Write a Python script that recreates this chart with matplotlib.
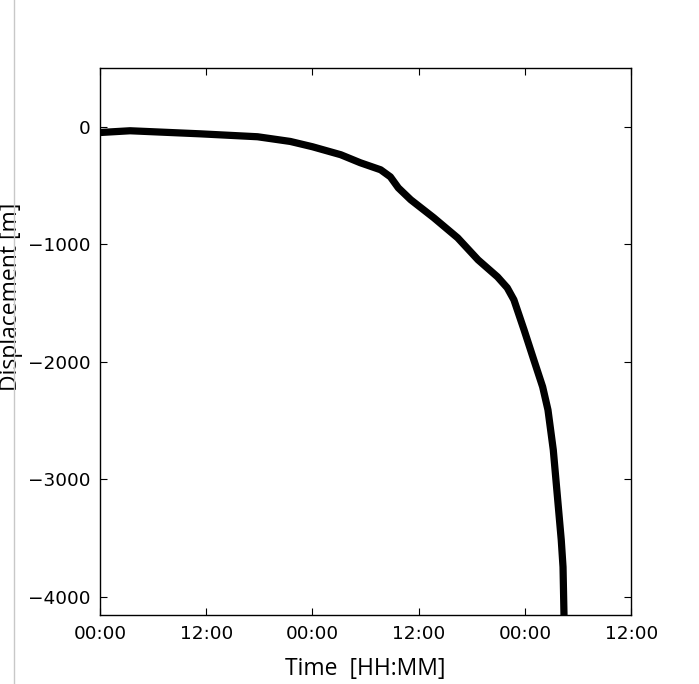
import matplotlib
matplotlib.use("Agg")
import matplotlib.pyplot as plt
from matplotlib.ticker import FuncFormatter, MultipleLocator
from matplotlib.lines import Line2D

# elapsed time in hours and displacement in metres
hours = [0.0, 3.4, 11.3, 17.8, 21.5, 24.0, 27.2, 29.4, 31.7, 32.8, 33.7, 35.1, 37.7,
         40.4, 42.7, 44.9, 46.0, 46.75, 47.9, 49.0, 50.0, 50.6, 51.2, 51.7,
         52.1, 52.3, 52.45]
displacement = [-49, -34, -60, -85, -125, -170, -238, -306, -366, -426, -520, -621, -774,
                -945, -1132, -1277, -1370, -1472, -1728, -1983, -2213, -2409, -2749, -3174,
                -3515, -3745, -4300]


def hhmm(h, pos):
    h = int(round(h)) % 24
    return f"{h:02d}:00"


fig = plt.figure(figsize=(6.99, 6.84), dpi=100)
ax = fig.add_axes([0.143, 0.101, 0.760, 0.7996])

ax.plot(hours, displacement, color="black", lw=5.2, solid_joinstyle="round")

ax.set_xlim(0, 60)
ax.set_ylim(-4153, 500)
ax.xaxis.set_major_locator(MultipleLocator(12))
ax.xaxis.set_major_formatter(FuncFormatter(hhmm))
ax.yaxis.set_major_locator(MultipleLocator(1000))

ax.tick_params(direction="in", top=True, right=True, length=5, width=0.8,
               labelsize=13.3, pad=7)
for s in ax.spines.values():
    s.set_linewidth(1.0)

ax.set_xlabel("Time  [HH:MM]", family="Open Sans", fontsize=16.5)
ax.set_ylabel("Displacement [m]", family="Open Sans", fontsize=16.5)
ax.xaxis.set_label_coords(0.5, -0.077)
ax.yaxis.set_label_coords(-0.144, 0.581)

# faint vertical rule at the left edge of the original image
fig.add_artist(Line2D([14 / 699, 14 / 699], [0, 1], color="#c8c8c8", lw=1,
                      transform=fig.transFigure))

plt.savefig("out.png", dpi=100)
